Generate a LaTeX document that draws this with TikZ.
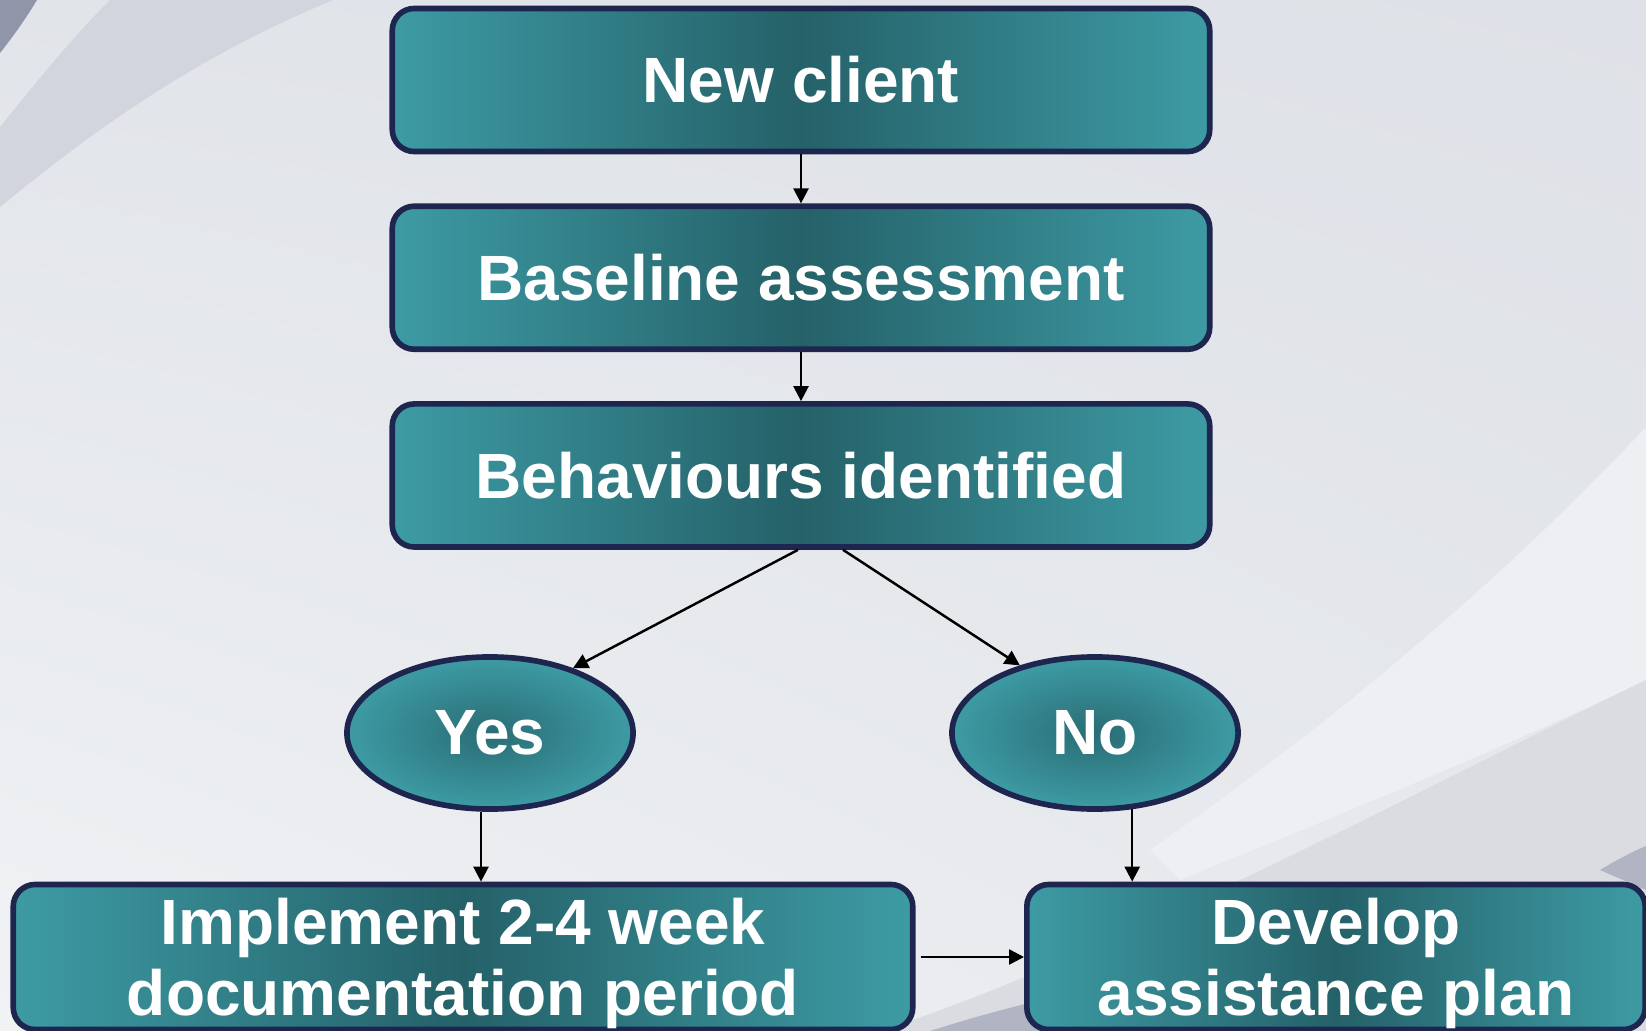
\documentclass[tikz,border=0pt]{standalone}
\usepackage{fontspec}
\setmainfont{Liberation Sans}
\usetikzlibrary{positioning,arrows.meta,shapes.geometric,calc,shadings}

\definecolor{tealedge}{HTML}{3D9BA4}
\definecolor{tealmid}{HTML}{256169}
\definecolor{navyline}{HTML}{1E2650}
\definecolor{bgtl}{HTML}{E1E4E9}
\definecolor{bgtr}{HTML}{DEE1E7}
\definecolor{bgbl}{HTML}{F0F2F4}
\definecolor{bgbr}{HTML}{E6E8EC}
\definecolor{bgband}{HTML}{D2D5DD}
\definecolor{bgcorner}{HTML}{9095A9}
\definecolor{bglight}{HTML}{EDEFF2}
\definecolor{bgshade}{HTML}{DADCE2}
\definecolor{bgdark}{HTML}{B0B4C3}

\begin{document}
\begin{tikzpicture}[x=0.01cm, y=-0.01cm,
  every node/.style={font=\fontsize{18.2}{20.2}\selectfont\bfseries, text=white},
  stepbox/.style={draw=navyline, line width=1.6pt, rounded corners=0.22cm,
    left color=tealedge, right color=tealedge, middle color=tealmid,
    minimum width=8.17cm, minimum height=1.43cm, inner sep=0pt, align=center},
  choice/.style={ellipse, draw=navyline, line width=1.6pt,
    inner color=tealmid!80!tealedge, outer color=tealedge,
    minimum width=2.86cm, minimum height=1.52cm, inner sep=0pt},
  arr/.style={line width=0.7pt, -{Triangle[length=1.5mm,width=1.5mm]}},
  node distance=0.49cm]

  %----- background -----
  \useasboundingbox (0,0) rectangle (1646,1031);
  \clip (0,0) rectangle (1646,1031);
  \shade[upper left=bgtl, upper right=bgtr, lower left=bgbl, lower right=bgbr]
    (0,0) rectangle (1646,1031);
  % swoosh top left
  \fill[bgband] (110,0) .. controls (70,40) and (30,90) .. (0,127)
    -- (0,207) .. controls (100,125) and (200,55) .. (333,0) -- cycle;
  \fill[bgcorner] (0,0) -- (37,0) .. controls (25,20) and (12,38) .. (0,53) -- cycle;
  % swooshes bottom right
  \fill[bglight] (1646,427) .. controls (1540,540) and (1380,690) .. (1150,850)
    -- (1180,880) .. controls (1350,810) and (1500,750) .. (1646,680) -- cycle;
  \fill[bgshade] (880,1031) .. controls (1100,960) and (1400,800) .. (1646,680)
    -- (1646,1031) -- cycle;
  \fill[bgdark] (930,1031) .. controls (980,1015) and (1010,1008) .. (1040,1000)
    -- (1040,1031) -- cycle;
  \fill[bgdark] (1600,870) .. controls (1620,858) and (1632,852) .. (1646,846)
    -- (1646,890) -- cycle;

  %----- steps -----
  \node[stepbox] (newclient) at (801,80) {New client};
  \node[stepbox, below=of newclient] (baseline) {Baseline assessment};
  \node[stepbox, below=of baseline] (behaviours) {Behaviours identified};

  %----- decision -----
  \node[choice] (yes) at (490,733) {Yes};
  \node[choice] (no) at (1095,733) {No};

  %----- outcomes -----
  \node[stepbox, minimum width=8.99cm, minimum height=1.45cm, text depth=0pt]
    (implement) at (463,957) {Implement 2-4 week\\documentation period};
  \node[stepbox, minimum width=6.18cm, minimum height=1.45cm, text depth=0pt]
    (develop) at (1336,957) {Develop\\assistance plan};

  %----- connectors -----
  \coordinate (yesfoot) at ($(yes.south)+(-9,0)$);
  \coordinate (nofoot) at (no.-64.6);
  \draw[arr] (newclient.south) -- (baseline.north);
  \draw[arr] (baseline.south) -- (behaviours.north);
  \draw[arr] ($(behaviours.south)+(-3,0)$) -- (yes.38);
  \draw[arr] ($(behaviours.south)+(42,0)$) -- (no.138);
  \draw[arr] (yesfoot) -- (yesfoot |- implement.north);
  \draw[arr] (nofoot) -- (nofoot |- develop.north);
  \draw[arr] ([xshift=0.05cm]implement.east) -- (develop.west);
\end{tikzpicture}
\end{document}
